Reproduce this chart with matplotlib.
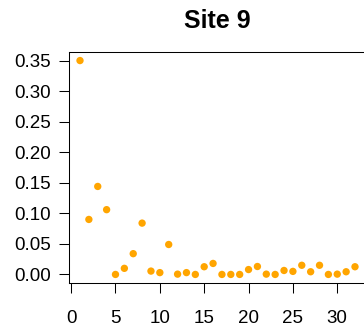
import matplotlib
matplotlib.use("Agg")
from matplotlib import pyplot as plt
import numpy as np

plt.rcParams['font.family'] = ['Liberation Sans', 'DejaVu Sans']

# values, index 1..32
site = 'Site 9'
idx = np.arange(1, 33)
vals = [0.350, 0.090, 0.144, 0.106, 0.000, 0.010, 0.034, 0.084,
        0.0055, 0.003, 0.049, 0.0005, 0.003, 0.000, 0.0126, 0.018,
        0.000, 0.000, 0.000, 0.008, 0.013, 0.0005, 0.000, 0.0065,
        0.005, 0.015, 0.0044, 0.015, 0.000, 0.0005, 0.0044, 0.0126]
xticks = [0, 5, 10, 15, 20, 25, 30]
yticks = [0.00, 0.05, 0.10, 0.15, 0.20, 0.25, 0.30, 0.35]

fig = plt.figure(figsize=(3.64, 3.26), dpi=100)
ax = fig.add_axes([69/364, 1 - 283/326, 297/364, (283 - 52)/326])

ax.scatter(idx, vals, s=28, color='#FFA500', edgecolors='none', zorder=3)

# R-style 4% padding around the data
n = len(idx)
ax.set_xlim(1 - 0.04*(n - 1), n + 0.04*(n - 1))
ax.set_ylim(0 - 0.04*0.35, 0.35 + 0.04*0.35)

ax.set_xticks(xticks)
ax.set_yticks(yticks)
ax.set_yticklabels(['%.2f' % v for v in yticks])
ax.tick_params(axis='both', labelsize=13.5, length=7, width=0.75, direction='out')
ax.tick_params(axis='x', pad=12.5)
ax.tick_params(axis='y', pad=6)
for s in ax.spines.values():
    s.set_linewidth(0.75)

ax.set_title(site, fontsize=18, fontweight='bold', pad=17)

plt.savefig('out.png', dpi=100)
